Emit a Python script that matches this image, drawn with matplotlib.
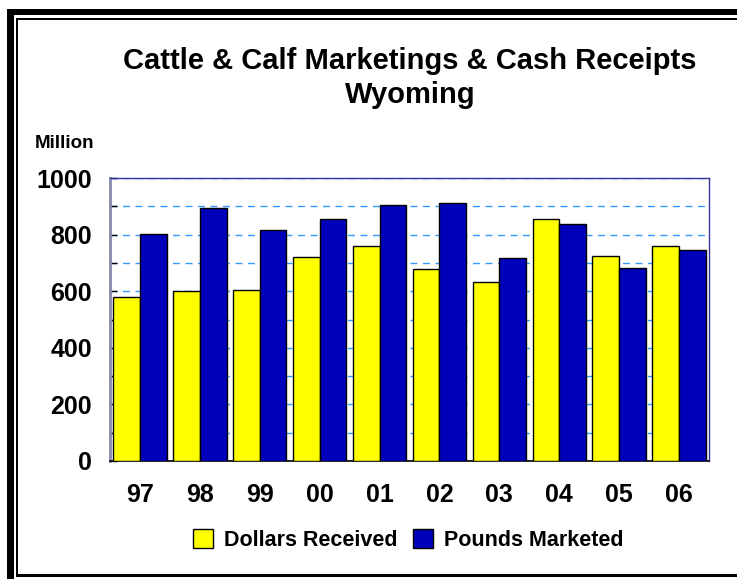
import matplotlib
matplotlib.use("Agg")
import matplotlib.pyplot as plt
from matplotlib.patches import Rectangle, Patch
import numpy as np

years = ["97", "98", "99", "00", "01", "02", "03", "04", "05", "06"]
dollars_received = [581, 599, 606, 721, 758, 677, 633, 855, 726, 760]
pounds_marketed = [803, 894, 815, 855, 904, 910, 718, 838, 681, 744]
yticks = [0, 200, 400, 600, 800, 1000]

W, H = 737, 579
plt.rcParams['font.family'] = ['Liberation Sans', 'DejaVu Sans']
fig = plt.figure(figsize=(W / 100, H / 100), dpi=100)

def fx(px):
    return px / W

def fy(py):
    return 1 - py / H

ax = fig.add_axes([fx(110), fy(461), fx(709) - fx(110), fy(178) - fy(461)])

x = np.arange(len(years))
bw = 0.445
ax.bar(x - bw / 2, dollars_received, bw, color="#FFFF00", edgecolor="black", linewidth=1, zorder=3)
ax.bar(x + bw / 2, pounds_marketed, bw, color="#0000BB", edgecolor="black", linewidth=1, zorder=3)

ax.set_xlim(-0.5, len(years) - 0.5)
ax.set_ylim(0, 1000)
ax.set_yticks(yticks)
ax.set_yticks(np.arange(0, 1001, 100), minor=True)
ax.set_yticklabels([str(v) for v in yticks], fontsize=18, fontweight="bold")
ax.set_xticks(x)
ax.set_xticklabels(years, fontsize=18, fontweight="bold")
ax.tick_params(axis="x", length=0, pad=16)
ax.tick_params(axis="y", which="both", direction="in", length=5, width=1, pad=13)
ax.yaxis.grid(True, which="both", linestyle=(0, (5, 4)), color="#3399FF", linewidth=1, zorder=0)
ax.set_axisbelow(True)
for s in ["top", "right"]:
    ax.spines[s].set_color("#333399")
    ax.spines[s].set_linewidth(1)
ax.spines["left"].set_color("#8888AA")
ax.spines["left"].set_linewidth(2)
ax.spines["bottom"].set_color("black")
ax.spines["bottom"].set_linewidth(1.2)

fig.text(fx(410), fy(61), "Cattle & Calf Marketings & Cash Receipts", ha="center", va="center",
         fontsize=21, fontweight="bold")
fig.text(fx(410), fy(95), "Wyoming", ha="center", va="center", fontsize=21, fontweight="bold")
fig.text(fx(35), fy(143), "Million", ha="left", va="center", fontsize=13.5, fontweight="bold")

handles = [Patch(facecolor="#FFFF00", edgecolor="black", label="Dollars Received"),
           Patch(facecolor="#0000BB", edgecolor="black", label="Pounds Marketed")]
fig.legend(handles=handles, loc="center", bbox_to_anchor=(fx(408), fy(540)), ncol=2, frameon=False,
           prop={"size": 15.5, "weight": "bold"}, handlelength=0.95, handleheight=0.95,
           handletextpad=0.5, columnspacing=0.7)

# outer frame
fig.add_artist(Rectangle((fx(7), 0), fx(7), fy(9), transform=fig.transFigure, color="black", lw=0))
fig.add_artist(Rectangle((fx(7), fy(15)), 1 - fx(7), fy(9) - fy(15), transform=fig.transFigure, color="black", lw=0))
fig.add_artist(Rectangle((fx(16), fy(576)), fx(1.5), fy(18) - fy(576), transform=fig.transFigure, color="black", lw=0))
fig.add_artist(Rectangle((fx(16), fy(19.5)), 1 - fx(16), fy(18) - fy(19.5), transform=fig.transFigure, color="black", lw=0))
fig.add_artist(Rectangle((fx(16), fy(576.5)), 1 - fx(16), fy(574) - fy(576.5), transform=fig.transFigure, color="black", lw=0))

fig.savefig("out.png", dpi=100)
